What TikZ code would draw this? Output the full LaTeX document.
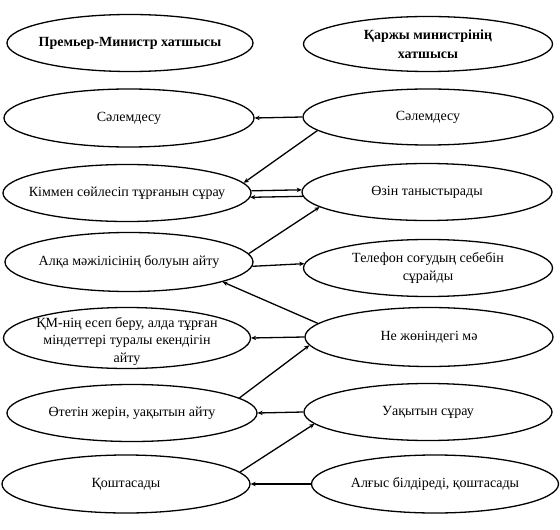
\documentclass[tikz,border=0pt]{standalone}
\usepackage{fontspec}
\setmainfont{Liberation Serif}
\usepackage{tikz}
\usetikzlibrary{arrows.meta,shapes.geometric}

\begin{document}
\begin{tikzpicture}[
    x=1bp,y=-1bp,
    oval/.style={draw,ellipse,line width=1.3bp,inner sep=0pt,
      minimum width=248bp,minimum height=57bp},
    txt/.style={align=center,inner sep=0pt,font=\fontsize{14bp}{17.5bp}\selectfont},
    bold/.style={txt,font=\fontsize{14bp}{19bp}\selectfont\bfseries},
    arrow/.style={-{Stealth[length=5bp,width=4.5bp]},line width=1.3bp}
  ]
    \useasboundingbox (0,0) rectangle (560,530);
    % left column: Премьер-Министр хатшысы
    \node[oval,minimum width=246bp,label={[bold]center:Премьер-Министр хатшысы}] (pm) at (130,43) {};
    \node[oval,minimum width=250bp,minimum height=58bp,label={[txt]center:Сәлемдесу}] (lgreet) at (129,118) {};
    \node[oval,label={[txt]center:Кіммен сөйлесіп тұрғанын сұрау}] (lwho) at (127,193) {};
    \node[oval,minimum height=59bp,label={[txt]center:Алқа мәжілісінің болуын айту}] (lmeet) at (129,262) {};
    \node[oval,minimum width=247bp,minimum height=61bp,
      label={[txt,yshift=-3bp]center:{ҚМ-нің есеп беру, алда тұрған\\міндеттері туралы екендігін\\айту}}] (lreport) at (127,338) {};
    \node[oval,minimum width=250bp,label={[txt]center:{Өтетін жерін, уақытын айту}}] (lplace) at (132,413) {};
    \node[oval,minimum height=58bp,label={[txt]center:Қоштасады}] (lbye) at (126,484) {};
    % right column: Қаржы министрінің хатшысы
    \node[oval,minimum width=249bp,minimum height=55bp,label={[bold]center:{Қаржы министрінің\\хатшысы}}] (fm) at (428,44) {};
    \node[oval,minimum width=250bp,minimum height=56bp,label={[txt]center:Сәлемдесу}] (rgreet) at (428,117) {};
    \node[oval,minimum width=250bp,label={[txt]center:Өзін таныстырады}] (rintro) at (427,192) {};
    \node[oval,minimum width=249bp,label={[txt]center:{Телефон соғудың себебін\\сұрайды}}] (rwhy) at (428,268) {};
    \node[oval,minimum height=59bp,label={[txt]center:Не жөніндегі мә}] (rabout) at (429,337) {};
    \node[oval,label={[txt]center:Уақытын сұрау}] (rtime) at (428,412) {};
    \node[oval,minimum width=247bp,minimum height=58bp,label={[txt]center:{Алғыс білдіреді, қоштасады}}] (rthanks) at (435,484) {};
    % connectors
    \draw[arrow] (rgreet.west) -- (lgreet.east);
    \draw[arrow] (rgreet.187.7) -- (lwho.5.4);
    \draw[arrow] (lwho.1.4) -- (rintro.179.1);
    \draw[arrow] (rintro.182.3) -- (lwho.358.2);
    \draw[arrow] (lmeet.4.9) -- (rintro.188);
    \draw[arrow] (lmeet.358.6) -- (rwhy.178.6);
    \draw[arrow] (rabout.173.7) -- (lmeet.348.8);
    \draw[arrow] (rabout.west) -- (lreport.east);
    \draw[arrow] (lplace.8.8) -- (rabout.184.3);
    \draw[arrow] (rtime.west) -- (lplace.east);
    \draw[arrow] (lbye.6.1) -- (rtime.186.7);
    \draw[arrow] (rthanks.west) -- (lbye.east);
\end{tikzpicture}
\end{document}
